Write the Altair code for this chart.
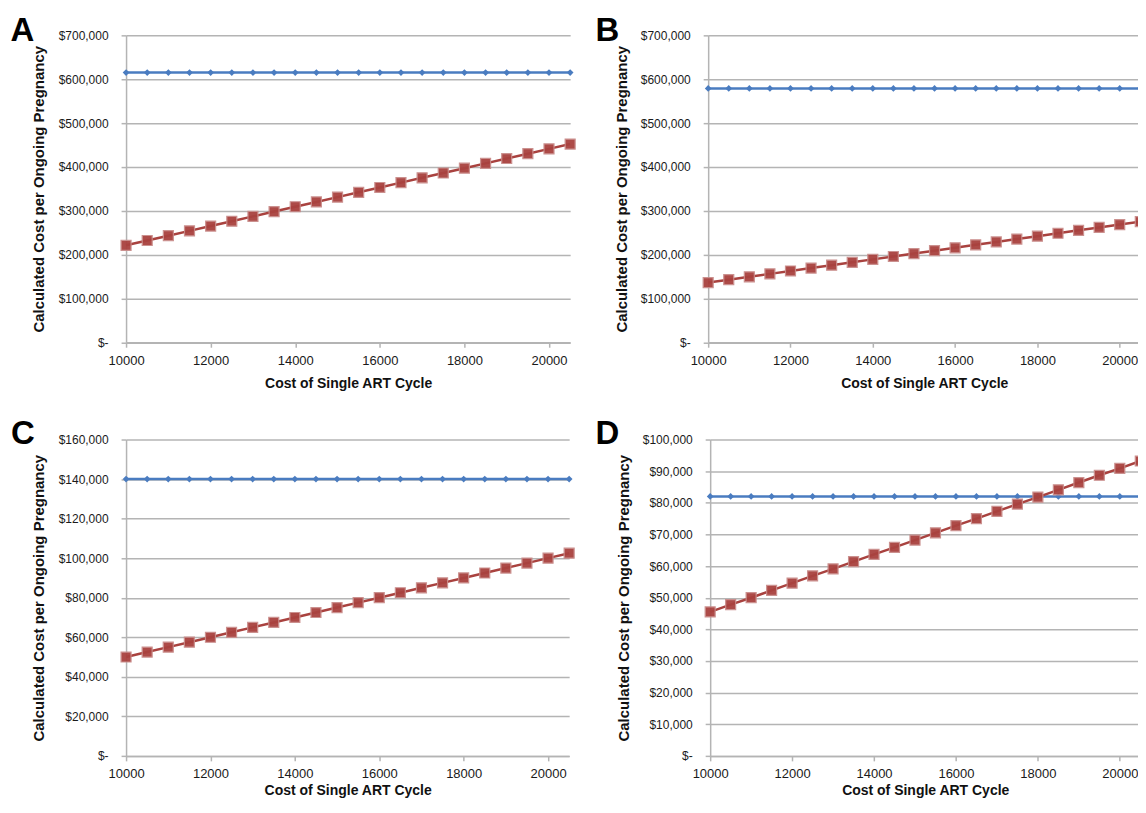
import altair as alt
import pandas as pd

# ---------------- data ----------------
cycle_cost = [10000, 10500, 11000, 11500, 12000, 12500, 13000, 13500, 14000, 14500, 15000,
              15500, 16000, 16500, 17000, 17500, 18000, 18500, 19000, 19500, 20000, 20500]

a_blue = [615000, 615000, 615000, 615000, 615000, 615000, 615000, 615000, 615000, 615000, 615000,
          615000, 615000, 615000, 615000, 615000, 615000, 615000, 615000, 615000, 615000, 615000]
a_red = [221000, 232000, 243000, 254000, 265000, 276000, 287000, 298000, 309000, 320000, 331000,
         342000, 353000, 364000, 375000, 386000, 397000, 408000, 419000, 430000, 441000, 452000]

b_blue = [579000, 579000, 579000, 579000, 579000, 579000, 579000, 579000, 579000, 579000, 579000,
          579000, 579000, 579000, 579000, 579000, 579000, 579000, 579000, 579000, 579000, 579000]
b_red = [136000, 142600, 149200, 155900, 162500, 169100, 175700, 182300, 189000, 195600, 202200,
         208800, 215400, 222100, 228700, 235300, 241900, 248500, 255200, 261800, 268400, 275000]

c_blue = [140000, 140000, 140000, 140000, 140000, 140000, 140000, 140000, 140000, 140000, 140000,
          140000, 140000, 140000, 140000, 140000, 140000, 140000, 140000, 140000, 140000, 140000]
c_red = [50000, 52500, 55000, 57500, 60000, 62500, 65000, 67500, 70000, 72500, 75000,
         77500, 80000, 82500, 85000, 87500, 90000, 92500, 95000, 97500, 100000, 102500]

d_blue = [82000, 82000, 82000, 82000, 82000, 82000, 82000, 82000, 82000, 82000, 82000,
          82000, 82000, 82000, 82000, 82000, 82000, 82000, 82000, 82000, 82000, 82000]
d_red = [45500, 47800, 50000, 52300, 54600, 56900, 59100, 61400, 63700, 65900, 68200,
         70500, 72800, 75000, 77300, 79600, 81800, 84100, 86400, 88700, 90900, 93200]

x_ticks = [10000, 12000, 14000, 16000, 18000, 20000]
x_title = "Cost of Single ART Cycle"
y_title = "Calculated Cost per Ongoing Pregnancy"

BLUE = "#4a7cc0"
RED = "#a9423f"
GRID = "#b4b4b4"
FONT = "Liberation Sans"


def panel(letter, blue, red, ymax, ystep, width, height, title_x, letter_x, letter_y, xt_pad):
    df = pd.DataFrame({"x": cycle_cost, "blue": blue, "red": red})
    base = alt.Chart(df)
    xscale = alt.Scale(domain=[10000, 20500], nice=False, zero=False)
    xaxis = alt.Axis(
        values=x_ticks, title=x_title, grid=False, format="d",
        labelFlush=False, labelOverlap=False,
        labelFont=FONT, labelFontSize=13, labelColor="#1a1a1a", labelPadding=7,
        tickColor=GRID, tickSize=5, tickWidth=1.5, domainColor=GRID, domainWidth=1.5,
        titleFont=FONT, titleFontSize=14, titleFontWeight="bold", titleColor="#111",
        titlePadding=xt_pad,
    )
    yscale = alt.Scale(domain=[0, ymax], nice=False, zero=True)
    yaxis = alt.Axis(
        values=list(range(0, ymax + 1, ystep)),
        labelExpr="datum.value == 0 ? '$-' : '$' + format(datum.value, ',')",
        labelOverlap=False, labelFlush=False,
        title=y_title, grid=True, gridColor=GRID, gridWidth=1.5,
        labelFont=FONT, labelFontSize=12, labelColor="#1a1a1a", labelPadding=13,
        tickColor=GRID, tickSize=5, tickWidth=1.5, domainColor=GRID, domainWidth=1.5,
        titleFont=FONT, titleFontSize=15, titleFontWeight="bold", titleColor="#111",
        titleX=title_x, titleY=height / 2, titleBaseline="middle", titleAngle=-90,
    )

    def X():
        return alt.X("x:Q", scale=xscale, axis=xaxis)

    blue_line = base.mark_line(color=BLUE, strokeWidth=2.5).encode(
        x=X(), y=alt.Y("blue:Q", scale=yscale, axis=yaxis))
    blue_pts = base.mark_point(shape="diamond", filled=True, size=45, color=BLUE, opacity=1).encode(
        x=X(), y=alt.Y("blue:Q", scale=yscale, axis=yaxis))
    red_line = base.mark_line(color=RED, strokeWidth=2.5).encode(
        x=X(), y=alt.Y("red:Q", scale=yscale, axis=yaxis))
    red_pts = base.mark_point(shape="square", filled=True, size=100, color=RED, opacity=0.95,
                              stroke="#c98c8a", strokeWidth=1.2).encode(
        x=X(), y=alt.Y("red:Q", scale=yscale, axis=yaxis))
    lab = alt.Chart(pd.DataFrame({"t": [letter]})).mark_text(
        font=FONT, fontSize=33, fontWeight="bold", color="#000", align="left",
        baseline="alphabetic").encode(text="t:N", x=alt.value(letter_x), y=alt.value(letter_y))

    return alt.layer(blue_line, blue_pts, red_line, red_pts, lab).properties(
        width=width, height=height)


pA = panel("A", a_blue, a_red, 700000, 100000, 445, 307.5, -88, -115.7, 5.5, 9)
pB = panel("B", b_blue, b_red, 700000, 100000, 433, 307.5, -87, -112.9, 5.5, 9)
pC = panel("C", c_blue, c_red, 160000, 20000, 444, 317, -88.2, -115.4, 4, 3)
pD = panel("D", d_blue, d_red, 100000, 10000, 431, 317, -87, -114.9, 4, 3)

chart = alt.concat(pA, pB, pC, pD, columns=2, align="none",
                   spacing={"row": 27, "column": 17.3}).properties(
    padding={"left": 2.3, "top": 5.6, "right": -10, "bottom": 0},
    background="white",
).configure_view(stroke=None)

chart.save("out.html", embed_options={"renderer": "svg", "actions": False})
